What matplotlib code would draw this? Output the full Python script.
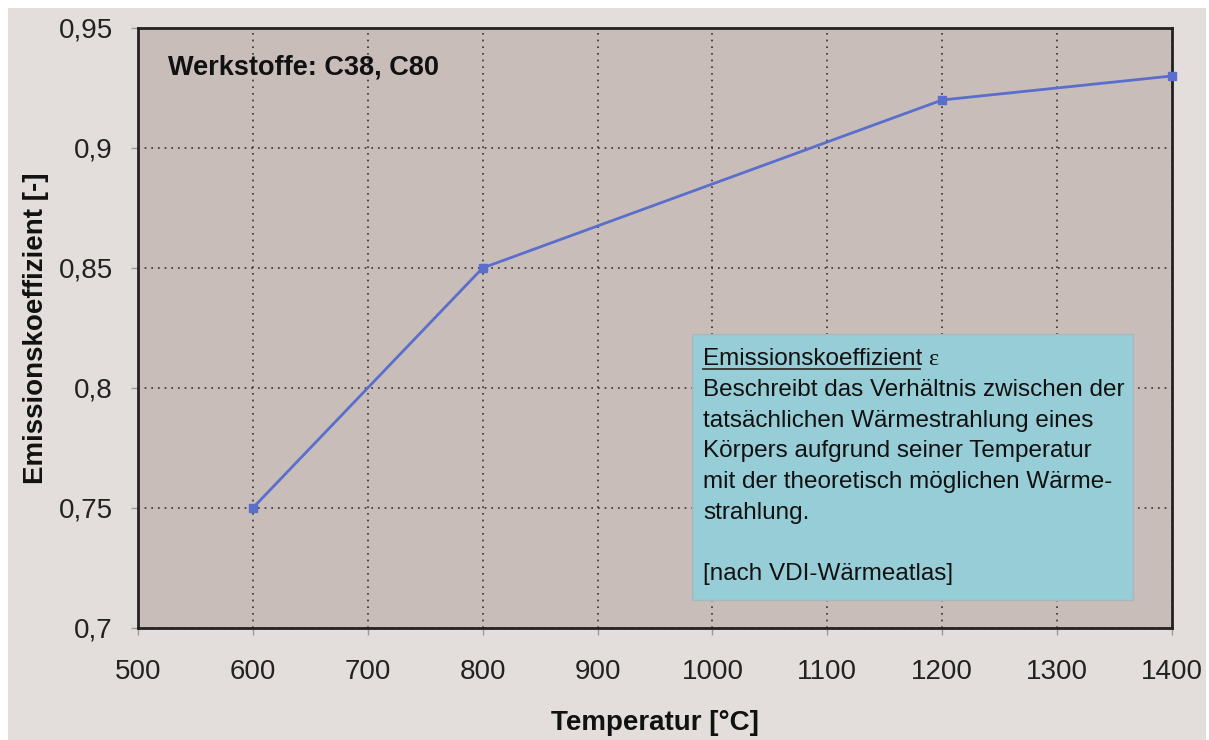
import matplotlib
matplotlib.use("Agg")
import matplotlib.pyplot as plt
from matplotlib.patches import Rectangle
from matplotlib.lines import Line2D
from matplotlib.ticker import FuncFormatter

# data
temperatur = [600, 800, 1200, 1400]
emission = [0.75, 0.85, 0.92, 0.93]
x_ticks = [500, 600, 700, 800, 900, 1000, 1100, 1200, 1300, 1400]
y_ticks = [0.7, 0.75, 0.8, 0.85, 0.9, 0.95]

box_lines = ["Beschreibt das Verhältnis zwischen der",
             "tatsächlichen Wärmestrahlung eines",
             "Körpers aufgrund seiner Temperatur",
             "mit der theoretisch möglichen Wärme-",
             "strahlung.",
             "",
             "[nach VDI-Wärmeatlas]"]

plt.rcParams['font.family'] = ['Liberation Sans', 'DejaVu Sans']

W, H = 1209, 740
fig = plt.figure(figsize=(W / 100, H / 100), dpi=100)
fig.patch.set_facecolor('white')
# grey page background (white border at left, top and right)
fig.patches.append(Rectangle((8 / W, 0), (1206 - 8) / W, 1 - 8 / H,
                             transform=fig.transFigure, facecolor='#E3DEDB',
                             edgecolor='none', zorder=-10))

ax = fig.add_axes([0.1141, 0.1514, 0.8553, 0.8108])
ax.set_facecolor('#C9BDBA')

ax.plot(temperatur, emission, color='#5A6FCB', linewidth=2, marker='s',
        markersize=6, zorder=3, clip_on=False)

ax.set_xlim(500, 1400)
ax.set_ylim(0.7, 0.95)
ax.set_xticks(x_ticks)
ax.set_yticks(y_ticks)
ax.yaxis.set_major_formatter(FuncFormatter(lambda v, p: ('%g' % v).replace('.', ',')))
ax.grid(True, color='#333333', linestyle=(0, (1, 3)), linewidth=1.2)
ax.tick_params(axis='both', labelsize=20, length=5, width=1,
               color='#999999', labelcolor='#222222')
ax.tick_params(axis='x', pad=17)
ax.tick_params(axis='y', pad=13)
for s in ax.spines.values():
    s.set_linewidth(2)
    s.set_color('#222222')

ax.set_xlabel('Temperatur [°C]', fontsize=20, fontweight='bold', labelpad=18,
              color='#111111')
ax.set_ylabel('Emissionskoeffizient [-]', fontsize=20, fontweight='bold',
              labelpad=7, color='#111111')

ax.text(0.029, 0.955, 'Werkstoffe: C38, C80', transform=ax.transAxes,
        fontsize=19.5, fontweight='bold', va='top', ha='left', color='#111111')

# info box
box = Rectangle((982, 0.7117), 384, 0.1108, facecolor='#96CDD6',
                edgecolor='#A8B8BA', linewidth=1, zorder=4)
ax.add_patch(box)

x0 = 992
y0 = 0.8096
dy = 0.01283
fs = 17.5
head = ax.text(x0, y0, 'Emissionskoeffizient', fontsize=fs, va='baseline',
               ha='left', zorder=5, color='#111111')
fig.canvas.draw()
bb = head.get_window_extent()
eps_x = ax.transData.inverted().transform((bb.x1 + 6, 0))[0]
ax.text(eps_x, y0, 'ε', fontsize=fs, va='baseline', ha='left', zorder=5,
        family=['Liberation Serif', 'DejaVu Serif'], color='#111111')
_, ybase = ax.transData.transform((x0, y0))
ax.add_line(Line2D([bb.x0, bb.x1 - 2], [ybase - 4, ybase - 4], transform=None,
                   color='#333333', linewidth=1.3, zorder=5))
for i, line in enumerate(box_lines):
    ax.text(x0, y0 - dy * (i + 1), line, fontsize=fs, va='baseline',
            ha='left', zorder=5, color='#111111')

fig.savefig('out.png', dpi=100, facecolor=fig.get_facecolor())
